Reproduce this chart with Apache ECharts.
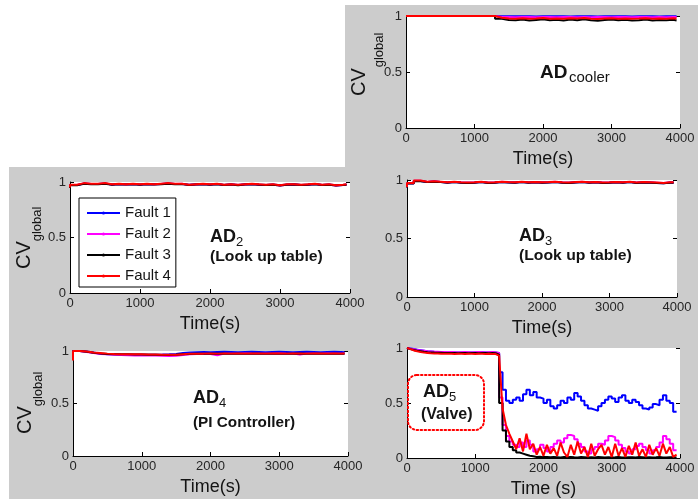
<!DOCTYPE html>
<html>
<head>
<meta charset="utf-8">
<script src="https://cdn.jsdelivr.net/npm/echarts@6/dist/echarts.min.js"></script>
<style>
  html, body { margin: 0; padding: 0; background: #fff; }
  #chart { width: 698px; height: 504px; }
</style>
</head>
<body>
<div id="chart"></div>
<script>
// Sample times (s)
const timeCoarse = [0,100,200,300,400,500,600,700,800,900,1000,1100,1200,1300,1400,1500,1600,1700,1800,1900,2000,2100,2200,2300,2400,2500,2600,2700,2800,2900,3000,3100,3200,3300,3400,3500,3600,3700,3800,3900,3950];
const timeFine = [0,50,100,150,200,250,300,350,400,450,500,550,600,650,700,750,800,850,900,950,1000,1050,1100,1150,1200,1250,1300,1350,1400,1450,1500,1550,1600,1650,1700,1750,1800,1850,1900,1950,2000,2050,2100,2150,2200,2250,2300,2350,2400,2450,2500,2550,2600,2650,2700,2750,2800,2850,2900,2950,3000,3050,3100,3150,3200,3250,3300,3350,3400,3450,3500,3550,3600,3650,3700,3750,3800,3850,3900,3950];

const seriesNames = ['Fault 1', 'Fault 2', 'Fault 3', 'Fault 4'];

// AD_cooler
const coolerF1 = [1,1,1,1,1,1,1,1,1,1,1,1,1,1,0.998,0.997,0.998,0.997,0.998,0.996,0.998,0.997,0.998,0.997,0.996,0.998,0.997,0.998,0.996,0.997,0.998,0.997,0.998,0.996,0.997,0.998,0.997,0.996,0.998,0.997,0.997];
const coolerF2 = [1,1,1,1,1,1,1,1,1,1,1,1,1,1,0.992,0.99,0.988,0.99,0.992,0.988,0.99,0.991,0.988,0.99,0.992,0.989,0.99,0.988,0.991,0.99,0.989,0.992,0.99,0.988,0.99,0.991,0.989,0.99,0.988,0.991,0.99];
const coolerF3 = [1,1,1,1,1,1,1,1,1,1,1,1,1,1,0.975,0.965,0.962,0.968,0.96,0.965,0.97,0.962,0.966,0.96,0.968,0.963,0.97,0.962,0.958,0.965,0.968,0.962,0.966,0.96,0.963,0.968,0.96,0.965,0.962,0.966,0.96];
const coolerF4 = [1,1,1,1,1,1,1,1,1,1,1,1,1,1,0.985,0.978,0.975,0.98,0.976,0.978,0.982,0.975,0.978,0.976,0.98,0.977,0.982,0.976,0.974,0.978,0.98,0.976,0.978,0.975,0.977,0.98,0.975,0.978,0.976,0.979,0.977];

// AD_2 (look up table)
const ad2F1 = [0.95,0.972,0.986,0.982,0.982,0.986,0.978,0.982,0.979,0.982,0.978,0.982,0.98,0.982,0.986,0.982,0.983,0.975,0.979,0.982,0.978,0.982,0.974,0.979,0.973,0.979,0.982,0.977,0.974,0.977,0.97,0.977,0.979,0.974,0.977,0.982,0.974,0.977,0.97,0.974,0.977];
const ad2F2 = [0.948,0.973,0.987,0.981,0.983,0.987,0.977,0.983,0.978,0.983,0.977,0.983,0.979,0.983,0.987,0.983,0.984,0.974,0.978,0.983,0.977,0.983,0.973,0.978,0.972,0.978,0.983,0.976,0.973,0.976,0.969,0.976,0.978,0.973,0.976,0.983,0.973,0.976,0.969,0.973,0.976];
const ad2F3 = [0.945,0.97,0.985,0.98,0.98,0.985,0.975,0.98,0.978,0.98,0.975,0.98,0.978,0.98,0.985,0.98,0.982,0.972,0.978,0.98,0.975,0.98,0.972,0.978,0.97,0.978,0.98,0.975,0.972,0.975,0.968,0.975,0.978,0.972,0.975,0.98,0.972,0.975,0.968,0.972,0.975];
const ad2F4 = [0.95,0.975,0.99,0.985,0.985,0.99,0.98,0.985,0.98,0.985,0.98,0.985,0.98,0.985,0.99,0.985,0.985,0.975,0.98,0.985,0.98,0.985,0.975,0.98,0.975,0.98,0.985,0.98,0.975,0.98,0.97,0.98,0.98,0.975,0.98,0.985,0.975,0.98,0.97,0.975,0.98];

// AD_3 (look up table)
const ad3F1 = [0.94,0.972,0.992,0.983,0.988,0.983,0.978,0.983,0.978,0.976,0.978,0.983,0.976,0.978,0.983,0.98,0.978,0.983,0.978,0.981,0.978,0.98,0.983,0.978,0.976,0.98,0.983,0.978,0.981,0.976,0.978,0.981,0.978,0.983,0.976,0.98,0.978,0.974,0.973,0.978,0.978];
const ad3F2 = [0.938,0.973,0.993,0.984,0.989,0.984,0.979,0.984,0.979,0.977,0.979,0.984,0.977,0.979,0.984,0.981,0.979,0.984,0.979,0.982,0.979,0.981,0.984,0.979,0.977,0.981,0.984,0.979,0.982,0.977,0.979,0.982,0.979,0.984,0.977,0.981,0.979,0.977,0.974,0.979,0.979];
const ad3F3 = [0.935,0.97,0.99,0.982,0.986,0.982,0.977,0.982,0.977,0.975,0.977,0.982,0.975,0.977,0.982,0.979,0.977,0.982,0.977,0.98,0.977,0.979,0.982,0.977,0.975,0.979,0.982,0.977,0.98,0.975,0.977,0.98,0.977,0.982,0.975,0.979,0.977,0.975,0.972,0.977,0.977];
const ad3F4 = [0.94,0.975,0.995,0.985,0.99,0.985,0.98,0.985,0.98,0.978,0.98,0.985,0.978,0.98,0.985,0.982,0.98,0.985,0.98,0.983,0.98,0.982,0.985,0.98,0.978,0.982,0.985,0.98,0.983,0.978,0.98,0.983,0.98,0.985,0.978,0.982,0.98,0.978,0.975,0.98,0.98];

// AD_4 (PI controller)
const ad4F1 = [0.95,1.0,0.995,0.985,0.975,0.97,0.968,0.966,0.965,0.964,0.965,0.964,0.965,0.966,0.968,0.972,0.98,0.985,0.988,0.99,0.988,0.99,0.992,0.99,0.988,0.99,0.992,0.99,0.988,0.99,0.992,0.99,0.988,0.99,0.992,0.99,0.988,0.99,0.992,0.99,0.988];
const ad4F2 = [0.95,1.0,0.99,0.98,0.972,0.968,0.965,0.962,0.96,0.958,0.96,0.958,0.957,0.955,0.953,0.955,0.962,0.97,0.972,0.974,0.972,0.96,0.975,0.976,0.975,0.978,0.976,0.975,0.977,0.976,0.978,0.976,0.975,0.966,0.976,0.977,0.975,0.978,0.976,0.977,0.976];
const ad4F3 = [0.93,1.0,0.993,0.983,0.977,0.972,0.97,0.968,0.968,0.966,0.966,0.965,0.964,0.963,0.963,0.964,0.968,0.972,0.973,0.973,0.974,0.973,0.975,0.973,0.974,0.973,0.975,0.974,0.973,0.975,0.974,0.973,0.975,0.974,0.973,0.974,0.975,0.973,0.974,0.973,0.974];
const ad4F4 = [0.91,1.0,0.995,0.985,0.98,0.975,0.972,0.97,0.97,0.968,0.968,0.967,0.966,0.965,0.965,0.965,0.97,0.975,0.975,0.975,0.976,0.975,0.977,0.975,0.976,0.975,0.977,0.976,0.975,0.977,0.976,0.975,0.977,0.976,0.975,0.976,0.977,0.975,0.976,0.975,0.976];

// AD_5 (valve)
const ad5F1 = [1.0,0.995,0.99,0.985,0.98,0.975,0.97,0.968,0.965,0.963,
  0.962,0.96,0.96,0.96,0.958,0.958,0.96,0.958,0.958,0.96,
  0.958,0.96,0.962,0.96,0.96,0.962,0.96,0.955,0.78,0.62,
  0.52,0.5,0.53,0.55,0.52,0.58,0.62,0.57,0.6,0.55,
  0.54,0.5,0.53,0.47,0.45,0.48,0.52,0.5,0.55,0.53,
  0.59,0.56,0.52,0.48,0.45,0.44,0.43,0.47,0.5,0.53,
  0.56,0.54,0.51,0.55,0.57,0.52,0.5,0.53,0.51,0.48,
  0.45,0.44,0.46,0.49,0.48,0.53,0.57,0.52,0.5,0.42];
const ad5F2 = [1.0,0.993,0.988,0.982,0.978,0.974,0.97,0.968,0.966,0.965,
  0.964,0.963,0.962,0.963,0.962,0.96,0.962,0.963,0.962,0.96,
  0.962,0.963,0.962,0.96,0.962,0.963,0.96,0.955,0.55,0.3,
  0.2,0.15,0.12,0.1,0.14,0.1,0.16,0.12,0.06,0.08,
  0.12,0.09,0.06,0.1,0.13,0.16,0.14,0.18,0.21,0.2,
  0.17,0.13,0.1,0.06,0.04,0.08,0.1,0.13,0.12,0.16,
  0.2,0.19,0.16,0.12,0.09,0.06,0.04,0.08,0.11,0.13,
  0.1,0.07,0.04,0.07,0.1,0.14,0.2,0.17,0.13,0.07];
const ad5F3 = [1.0,0.99,0.982,0.975,0.97,0.965,0.962,0.96,0.958,0.957,
  0.956,0.955,0.955,0.954,0.955,0.953,0.954,0.955,0.953,0.954,
  0.955,0.953,0.954,0.955,0.953,0.954,0.952,0.94,0.5,0.25,
  0.15,0.1,0.07,0.05,0.04,0.03,0.02,0.015,0.01,0.012,
  0.008,0.01,0.006,0.009,0.007,0.005,0.008,0.006,0.01,0.007,
  0.005,0.008,0.006,0.004,0.007,0.005,0.008,0.006,0.004,0.007,
  0.005,0.006,0.008,0.005,0.004,0.007,0.006,0.005,0.008,0.006,
  0.004,0.007,0.005,0.006,0.008,0.005,0.004,0.006,0.007,0.005];
const ad5F4 = [1.0,0.99,0.978,0.97,0.963,0.958,0.955,0.952,0.95,0.95,
  0.948,0.948,0.947,0.948,0.946,0.947,0.948,0.946,0.947,0.948,
  0.946,0.947,0.948,0.946,0.947,0.946,0.945,0.93,0.45,0.3,
  0.22,0.15,0.08,0.18,0.06,0.22,0.08,0.13,0.03,0.1,
  0.02,0.12,0.04,0.09,0.02,0.14,0.05,0.01,0.12,0.03,
  0.15,0.04,0.1,0.01,0.13,0.02,0.08,0.12,0.03,0.1,
  0.01,0.13,0.02,0.09,0.01,0.11,0.03,0.14,0.02,0.08,
  0.01,0.12,0.03,0.09,0.02,0.13,0.04,0.1,0.01,0.03];

const FONT = "'Liberation Sans', Arial, Helvetica, sans-serif";
const TEXT = '#141414';
const TICK_TEXT = '#262626';
const colors = ['#0000ff', '#ff00ff', '#000000', '#ff0000'];

// Panel layout: plot rectangle, data and decorations
const panels = [
  { rect: [406, 16, 274, 112], time: timeCoarse, data: [coolerF1, coolerF2, coolerF3, coolerF4], xName: 'Time(s)', cv: { x: 359, y: 82, gx: 379, gy: 50 }, stepRed: true },
  { rect: [70, 182, 280, 111], time: timeCoarse, data: [ad2F1, ad2F2, ad2F3, ad2F4], xName: 'Time(s)', cv: { x: 24, y: 255, gx: 37, gy: 224 }, stepRed: true },
  { rect: [407, 180, 270, 117], time: timeCoarse, data: [ad3F1, ad3F2, ad3F3, ad3F4], xName: 'Time(s)', cv: null, stepRed: true },
  { rect: [73, 351, 275, 105], time: timeCoarse, data: [ad4F1, ad4F2, ad4F3, ad4F4], xName: 'Time(s)', cv: { x: 25, y: 420, gx: 38, gy: 389 }, stepRed: true },
  { rect: [407, 348, 273, 110], time: timeFine, data: [ad5F1, ad5F2, ad5F3, ad5F4], xName: 'Time (s)', cv: null, stepRed: false }
];

const grid = [], xAxis = [], yAxis = [], series = [];
const graphic = [
  // grey figure background
  { type: 'rect', z: -100, shape: { x: 345, y: 5, width: 353, height: 163 }, style: { fill: '#cccccc' } },
  { type: 'rect', z: -100, shape: { x: 9, y: 167, width: 689, height: 332 }, style: { fill: '#cccccc' } }
];

const tickLabel = { margin: 4, fontFamily: FONT, fontSize: 13, color: TICK_TEXT, formatter: v => String(v) };

panels.forEach((p, i) => {
  grid.push({ left: p.rect[0], top: p.rect[1], width: p.rect[2], height: p.rect[3],
    show: true, backgroundColor: '#ffffff', borderWidth: 0, containLabel: false });
  xAxis.push({
    type: 'value', gridIndex: i, min: 0, max: 4000, interval: 1000,
    name: p.xName, nameLocation: 'middle', nameGap: 22,
    nameTextStyle: { fontFamily: FONT, fontSize: 18, color: TEXT, verticalAlign: 'top' },
    axisLine: { show: true, lineStyle: { color: '#000', width: 1 } },
    axisTick: { show: true, inside: true, length: 4, lineStyle: { color: '#000' } },
    axisLabel: tickLabel,
    splitLine: { show: false }
  });
  yAxis.push({
    type: 'value', gridIndex: i, min: 0, max: 1, interval: 0.5,
    axisLine: { show: true, lineStyle: { color: '#000', width: 1 } },
    axisTick: { show: true, inside: true, length: 4, lineStyle: { color: '#000' } },
    axisLabel: tickLabel,
    splitLine: { show: false }
  });
  p.data.forEach((vals, k) => {
    series.push({
      name: seriesNames[k], type: 'line', xAxisIndex: i, yAxisIndex: i,
      data: vals.map((v, j) => [p.time[j], v]),
      step: (k === 3 && !p.stepRed) ? false : 'start', clip: false,
      symbol: k < 3 ? 'circle' : 'none', symbolSize: 3, showSymbol: false,
      color: colors[k],
      lineStyle: { color: colors[k], width: 2 },
      emphasis: { disabled: true },
      z: 2 + k
    });
  });
  if (p.cv) {
    graphic.push({ type: 'text', x: p.cv.x, y: p.cv.y, rotation: Math.PI / 2, z: 50,
      style: { text: 'CV', font: '20px ' + FONT, fill: TEXT, align: 'center', verticalAlign: 'middle' } });
    graphic.push({ type: 'text', x: p.cv.gx, y: p.cv.gy, rotation: Math.PI / 2, z: 50,
      style: { text: 'global', font: '13px ' + FONT, fill: TEXT, align: 'center', verticalAlign: 'middle' } });
  }
});

// tick marks on the right edge of each plot box
panels.forEach((p, i) => {
  yAxis.push({
    type: 'value', gridIndex: i, min: 0, max: 1, interval: 0.5, position: 'right',
    axisLine: { show: false },
    axisTick: { show: true, inside: true, length: 4, lineStyle: { color: '#000' } },
    axisLabel: { show: false }, splitLine: { show: false }
  });
});

// Panel titles
function label(x, y, text, size, bold, sx) {
  return { type: 'text', x: x, y: y, z: 60, scaleX: sx || 1,
    style: { text: text, font: (bold ? 'bold ' : '') + size + 'px ' + FONT, fill: TEXT, align: 'left', verticalAlign: 'bottom' } };
}
graphic.push(label(540, 82, 'AD', 19, true), label(569, 85, 'cooler', 15, false));
graphic.push(label(210, 246, 'AD', 18, true), label(236, 249, '2', 13, false), label(210, 264, '(Look up table)', 15, true, 1.05));
graphic.push(label(519, 245, 'AD', 18, true), label(545, 248, '3', 13, false), label(519, 263, '(Look up table)', 15, true, 1.05));
graphic.push(label(193, 407, 'AD', 18, true), label(219, 410, '4', 13, false), label(193, 430, '(PI Controller)', 15, true, 1.02));
graphic.push(label(423, 401, 'AD', 18, true), label(449, 404, '5', 13, false), label(421, 423, '(Valve)', 16, true));
graphic.push({ type: 'rect', z: 40, shape: { x: 408, y: 375, width: 76, height: 55, r: 9 },
  style: { fill: 'none', stroke: '#ff0000', lineWidth: 2, lineDash: [1.5, 2.5], lineCap: 'round' } });

const chart = echarts.init(document.getElementById('chart'), null, { renderer: 'canvas' });
chart.setOption({
  animation: false,
  textStyle: { fontFamily: FONT },
  grid, xAxis, yAxis, series, graphic,
  legend: {
    data: seriesNames, left: 79, top: 198, orient: 'vertical',
    backgroundColor: '#ffffff', borderColor: '#000', borderWidth: 1,
    padding: [7, 5, 3, 7], itemGap: 5, itemWidth: 33, itemHeight: 4,
    textStyle: { fontFamily: FONT, fontSize: 15, color: TEXT, lineHeight: 16 },
    selectedMode: false, z: 30
  }
});
</script>
</body>
</html>
